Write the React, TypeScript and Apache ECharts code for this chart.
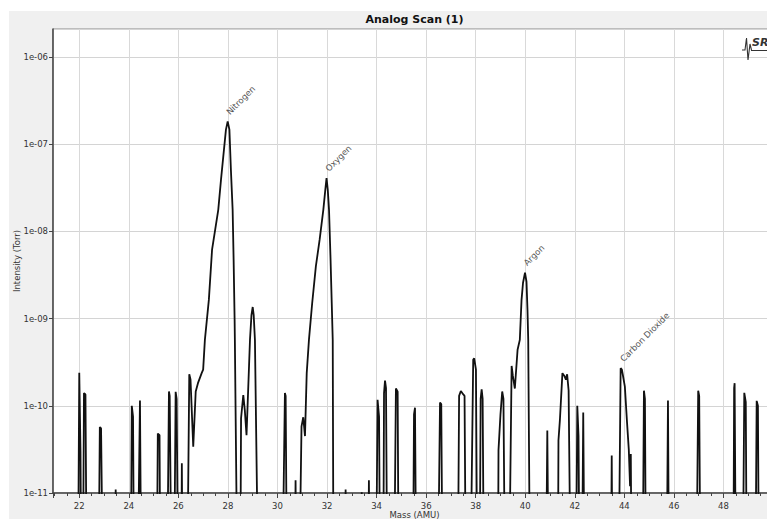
import React, { useEffect, useRef } from "react";
import * as echarts from "echarts";

// ---- data ----
const MASS_AMU: number[] = [
  21.95, 22.0, 22.05, 22.08, 22.15, 22.19, 22.25, 22.3,
  22.78, 22.83, 22.88, 22.95,
  23.44, 23.47, 23.5,
  24.08, 24.12, 24.17, 24.21,
  24.36, 24.45, 24.5,
  25.13, 25.17, 25.24, 25.27,
  25.55, 25.62, 25.65, 25.72,
  25.83, 25.89, 25.93, 25.99,
  26.12, 26.14, 26.17,
  26.36, 26.44, 26.49, 26.6, 26.7, 26.79, 26.94, 27.0, 27.07,
  27.23, 27.36, 27.61, 27.72, 27.84, 27.92, 27.99, 28.06, 28.12, 28.19, 28.23, 28.27, 28.28, 28.38,
  28.5, 28.53, 28.62, 28.68, 28.75, 28.89, 28.95, 29.0, 29.04, 29.09, 29.22,
  30.2, 30.3, 30.33, 30.38,
  30.7, 30.73, 30.76,
  30.88, 30.97, 31.04, 31.11, 31.18, 31.27, 31.4, 31.55, 31.7, 31.85, 31.93, 31.98, 32.03, 32.08, 32.14, 32.19, 32.23, 32.26,
  32.72, 32.75, 32.78,
  33.38, 33.4, 33.42,
  33.66, 33.69, 33.72,
  33.98, 34.04, 34.1, 34.14,
  34.27, 34.3, 34.34, 34.38, 34.43,
  34.71, 34.78, 34.85, 34.89,
  35.47, 35.51, 35.55, 35.6,
  36.48, 36.56, 36.61, 36.66,
  37.28, 37.33, 37.4, 37.5, 37.55, 37.6,
  37.79, 37.9, 37.94, 38.01, 38.06,
  38.16, 38.2, 38.24, 38.28, 38.33,
  38.9, 38.92, 39.0, 39.07, 39.12, 39.18,
  39.35, 39.45, 39.5, 39.58, 39.69, 39.78, 39.85, 39.91, 39.99, 40.05, 40.09, 40.12, 40.19,
  40.84, 40.89, 40.94,
  41.32, 41.34, 41.4, 41.5, 41.58, 41.64, 41.69, 41.75, 41.83,
  42.05, 42.1, 42.15, 42.19,
  42.29, 42.34, 42.39,
  43.46, 43.49, 43.52,
  43.77, 43.85, 43.9, 43.95, 44.02, 44.11, 44.18, 44.23, 44.26, 44.29,
  44.74, 44.79, 44.83, 44.87,
  45.71, 45.76, 45.8,
  46.91, 46.98, 47.02, 47.07,
  48.4, 48.43, 48.45, 48.5,
  48.78, 48.84, 48.9, 48.94,
  49.29, 49.34, 49.39, 49.43,
  50.1,
];

const INTENSITY_TORR: number[] = [
  1e-12, 2.4e-10, 3e-11, 1e-12, 1e-12, 1.4e-10, 1.35e-10, 1e-12,
  1e-12, 5.7e-11, 5.5e-11, 1e-12,
  1e-12, 1.1e-11, 1e-12,
  1e-12, 1.0e-10, 7.5e-11, 1e-12,
  1e-12, 1.15e-10, 1e-12,
  1e-12, 4.8e-11, 4.6e-11, 1e-12,
  1e-12, 1.46e-10, 1.3e-10, 1e-12,
  1e-12, 1.45e-10, 1.2e-10, 1e-12,
  1e-12, 2.2e-11, 1e-12,
  1e-12, 2.3e-10, 2.0e-10, 3.4e-11, 1.46e-10, 1.82e-10, 2.37e-10, 2.6e-10, 5.7e-10,
  1.64e-9, 6.2e-9, 1.77e-8, 3.9e-8, 8.7e-8, 1.47e-7, 1.83e-7, 1.47e-7, 5.1e-8, 1.77e-8, 4.7e-9, 9.7e-10, 5.7e-10, 1e-12,
  1e-12, 7.2e-11, 1.33e-10, 9e-11, 4.6e-11, 5.7e-10, 1.1e-9, 1.36e-9, 1.1e-9, 5.7e-10, 1e-12,
  1e-12, 1.4e-10, 1.3e-10, 1e-12,
  1e-12, 1.4e-11, 1e-12,
  1e-12, 5.8e-11, 7.4e-11, 4.5e-11, 2.37e-10, 5.7e-10, 1.5e-9, 4e-9, 8e-9, 1.77e-8, 3e-8, 4.1e-8, 3e-8, 1.77e-8, 5e-9, 1.5e-9, 5.7e-10, 1e-12,
  1e-12, 1.1e-11, 1e-12,
  1e-12, 1.02e-11, 1e-12,
  1e-12, 1.4e-11, 1e-12,
  1e-12, 1.17e-10, 7.5e-11, 1e-12,
  1e-12, 1.4e-10, 1.95e-10, 1.6e-10, 1e-12,
  1e-12, 1.58e-10, 1.45e-10, 1e-12,
  1e-12, 8e-11, 9.5e-11, 1e-12,
  1e-12, 1.09e-10, 1.05e-10, 1e-12,
  1e-12, 1.3e-10, 1.48e-10, 1.35e-10, 1.3e-10, 1e-12,
  1e-12, 3.4e-10, 3.5e-10, 2.6e-10, 1e-12,
  1e-12, 1.2e-10, 1.55e-10, 1.2e-10, 1e-12,
  1e-12, 3.1e-11, 8e-11, 1.46e-10, 1.2e-10, 1e-12,
  1e-12, 2.87e-10, 2.2e-10, 1.58e-10, 4.4e-10, 5.7e-10, 1.64e-9, 2.58e-9, 3.36e-9, 2.65e-9, 1.26e-9, 5.7e-10, 1e-12,
  1e-12, 5.2e-11, 1e-12,
  1e-12, 4e-11, 7e-11, 2.37e-10, 2.2e-10, 2.0e-10, 2.3e-10, 1.5e-10, 1e-12,
  1e-12, 1.0e-10, 4.5e-11, 1e-12,
  1e-12, 8.4e-11, 1e-12,
  1e-12, 2.7e-11, 1e-12,
  1e-12, 2.7e-10, 2.6e-10, 2.17e-10, 1.66e-10, 6.3e-11, 3.1e-11, 1.2e-11, 2.8e-11, 1e-12,
  1e-12, 1.49e-10, 1.2e-10, 1e-12,
  1e-12, 1.15e-10, 1e-12,
  1e-12, 1.49e-10, 1.3e-10, 1e-12,
  1e-12, 1.6e-10, 1.82e-10, 1e-12,
  1e-12, 1.41e-10, 1.1e-10, 1e-12,
  1e-12, 1.14e-10, 1.0e-10, 1e-12,
  1e-12,
];

const ANNOT_NAMES: string[] = ["Nitrogen", "Oxygen", "Argon", "Carbon Dioxide"];
const ANNOT_MASS: number[] = [28.0, 32.0, 40.0, 43.9];
const ANNOT_INTENSITY: number[] = [1.83e-7, 4.1e-8, 3.4e-9, 2.7e-10];

const X_TICK_LABELS: number[] = [22, 24, 26, 28, 30, 32, 34, 36, 38, 40, 42, 44, 46, 48];
const Y_DECADES: number[] = [-11, -10, -9, -8, -7, -6];
const MINOR_STEPS: number[] = [2, 3, 4, 5, 6, 7, 8, 9];

const X_MIN = 20.94;
const X_MAX = 50.12;
const Y_MIN = 1e-11;
const Y_MAX = 2.1e-6;

const FONT = "DejaVu Sans";

export default function App() {
  const ref = useRef<HTMLDivElement>(null);

  useEffect(() => {
    if (!ref.current) return;
    const chart = echarts.init(ref.current, null, { renderer: "svg" });

    const minorLines: { yAxis: number }[] = [];
    Y_DECADES.forEach((e) => {
      MINOR_STEPS.forEach((m) => {
        const v = m * Math.pow(10, e);
        if (v < Y_MAX) minorLines.push({ yAxis: v });
      });
    });

    const data = MASS_AMU.map((m, i) => [m, INTENSITY_TORR[i]]);

    chart.setOption({
      animation: false,
      backgroundColor: "transparent",
      grid: {
        left: 44,
        top: 18,
        width: 723,
        height: 464,
        containLabel: false,
        outerBoundsMode: "none",
        show: true,
        backgroundColor: "#ffffff",
        borderColor: "#8a8a8a",
        borderWidth: 1,
      },
      xAxis: {
        type: "value",
        min: X_MIN,
        max: X_MAX,
        splitNumber: 14,
        name: "Mass (AMU)",
        nameLocation: "middle",
        nameGap: 17,
        nameMoveOverlap: false,
        nameTextStyle: { fontFamily: FONT, fontSize: 8.5, color: "#333" },
        axisLine: { show: true, onZero: false, lineStyle: { color: "#444", width: 1.5 } },
        axisTick: { show: true, length: 5, lineStyle: { color: "#444" } },
        minorTick: { show: true, splitNumber: 4, length: 3, lineStyle: { color: "#444" } },
        axisLabel: {
          fontFamily: FONT,
          fontSize: 8.5,
          color: "#333",
          margin: 8,
          showMinLabel: false,
          showMaxLabel: false,
          formatter: (v: number) => {
            const r = Math.round(v);
            return Math.abs(v - r) < 1e-6 && X_TICK_LABELS.indexOf(r) >= 0 ? String(r) : "";
          },
        },
        splitLine: { show: true, lineStyle: { color: "#d9d9d9", width: 1 } },
      },
      yAxis: {
        type: "log",
        logBase: 10,
        min: Y_MIN,
        max: Y_MAX,
        splitNumber: 5,
        name: "Intensity (Torr)",
        nameLocation: "middle",
        nameGap: 32,
        nameRotate: 90,
        nameMoveOverlap: false,
        nameTextStyle: { fontFamily: FONT, fontSize: 8.5, color: "#333" },
        axisLine: { show: true, onZero: false, lineStyle: { color: "#444", width: 1.5 } },
        axisTick: { show: true, length: 4, lineStyle: { color: "#444" } },
        axisLabel: {
          fontFamily: FONT,
          fontSize: 8.5,
          color: "#333",
          margin: 5,
          showMaxLabel: false,
          formatter: (v: number) => {
            const e = Math.log10(v);
            const r = Math.round(e);
            if (Math.abs(e - r) > 1e-6) return "";
            return "1e-" + String(-r).padStart(2, "0");
          },
        },
        splitLine: { show: true, lineStyle: { color: "#d4d4d4", width: 1 } },
      },
      series: [
        {
          type: "line",
          data,
          showSymbol: false,
          symbol: "none",
          clip: true,
          z: 3,
          lineStyle: { color: "#111", width: 1.8 },
          markLine: {
            silent: true,
            z: 1,
            symbol: "none",
            animation: false,
            label: { show: false },
            lineStyle: { color: "#ececec", width: 1, type: "solid" },
            data: minorLines,
          },
        },
      ],
    });

    // annotation labels placed through the chart's own scales
    const annot = ANNOT_NAMES.map((name, i) => {
      const p = chart.convertToPixel({ gridIndex: 0 }, [ANNOT_MASS[i], ANNOT_INTENSITY[i]]) as number[];
      return {
        type: "text",
        x: p[0] + 3,
        y: p[1] - 5,
        rotation: Math.PI / 4,
        z: 50,
        style: {
          text: name,
          fontFamily: FONT,
          fontSize: 8.5,
          fill: "#555",
          textAlign: "left",
          textVerticalAlign: "bottom",
        },
      };
    });

    chart.setOption({
      graphic: [
        {
          type: "text",
          x: 405.5,
          y: 8.5,
          z: 50,
          style: {
            text: "Analog Scan (1)",
            fontFamily: FONT,
            fontSize: 11,
            fontWeight: "bold",
            fill: "#111",
            textAlign: "center",
            textVerticalAlign: "middle",
          },
        },
        ...annot,
        {
          type: "polyline",
          z: 50,
          shape: { points: [[733, 39], [736, 39], [737.5, 27], [739, 49], [741, 33], [742.5, 39]] },
          style: { stroke: "#333", lineWidth: 1.1, fill: null },
        },
        {
          type: "line",
          z: 50,
          shape: { x1: 742, y1: 39.5, x2: 790, y2: 39.5 },
          style: { stroke: "#333", lineWidth: 1 },
        },
        {
          type: "text",
          x: 743,
          y: 26,
          z: 50,
          style: {
            text: "SRS",
            fontFamily: FONT,
            fontSize: 11,
            fontWeight: "bold",
            fontStyle: "italic",
            fill: "#333",
            textAlign: "left",
            textVerticalAlign: "top",
          },
        },
      ],
    });

    return () => chart.dispose();
  }, []);

  return (
    <div style={{ position: "fixed", left: 0, top: 0, width: 767, height: 519, overflow: "hidden", background: "#fff" }}>
      <div
        ref={ref}
        style={{ position: "absolute", left: 9, top: 11, width: 790, height: 530, background: "#f0f0f0" }}
      />
    </div>
  );
}
